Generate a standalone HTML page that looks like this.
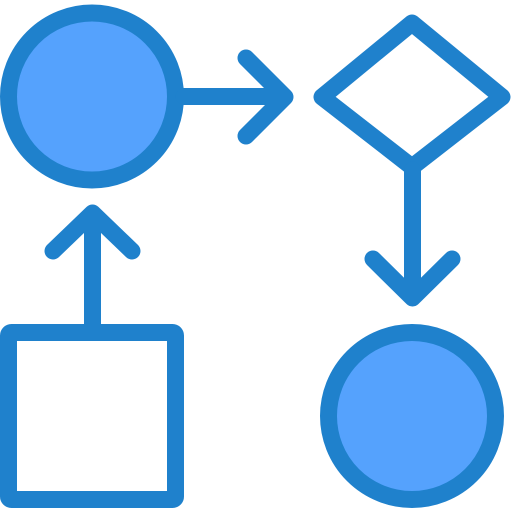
<!DOCTYPE html>
<html><head><style>html,body{margin:0;padding:0;background:#fff}svg{display:block}</style></head>
<body>
<svg width="512" height="512" viewBox="0 0 512 512" xmlns="http://www.w3.org/2000/svg">
<g stroke="#1f81cc" stroke-width="17" stroke-linecap="round" stroke-linejoin="round">
<circle cx="92" cy="96.5" r="83.5" fill="#55a2fd"/>
<circle cx="412" cy="416" r="83.5" fill="#55a2fd"/>
<path d="M184 96.5H284M246 58L285 97L246 136" fill="none"/>
<polygon points="412,23 502,97 412,167 322,97" fill="#fff"/>
<path d="M412.5 170V296M373 259L412.5 298L452 259" fill="none"/>
<path d="M92.5 325V215M53 251L92.5 213L132 251" fill="none"/>
<rect x="8.5" y="332.5" width="167" height="167" rx="3" fill="#fff" stroke-linejoin="miter"/>
</g>
</svg>
</body></html>
